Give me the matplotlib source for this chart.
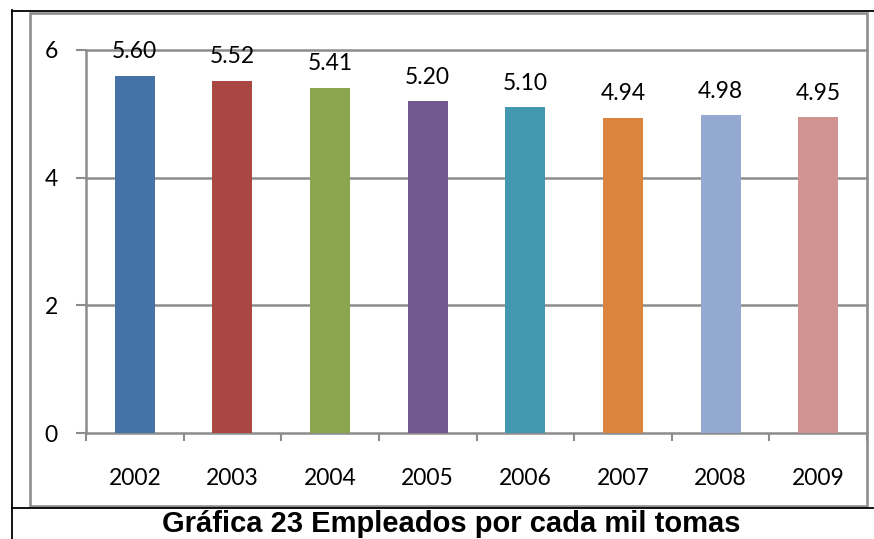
import numpy as np
import matplotlib.pyplot as plt
from matplotlib.lines import Line2D
from matplotlib.patches import Rectangle

# data
years = ["2002", "2003", "2004", "2005", "2006", "2007", "2008", "2009"]
values = [5.60, 5.52, 5.41, 5.20, 5.10, 4.94, 4.98, 4.95]
colors = ["#4572A7", "#AA4643", "#89A54E", "#71588F",
          "#4198AF", "#DB843D", "#93A9CF", "#D19392"]
yticks = [0, 2, 4, 6]
caption = "Gráfica 23 Empleados por cada mil tomas"

W, H = 874, 539
fig = plt.figure(figsize=(W / 100, H / 100), dpi=100)
fig.patch.set_facecolor("white")

def fx(px):
    return px / W

def fy(py):
    return 1 - py / H

# plot area
ax = fig.add_axes([fx(86), fy(433), fx(867) - fx(86), fy(50) - fy(433)])
x = np.arange(len(years))
ax.bar(x, values, width=0.41, color=colors, zorder=3)
ax.set_xlim(-0.5, len(years) - 0.5)
ax.set_ylim(0, 6)

grid_col = "#8c8c8c"
for v in yticks[1:]:
    ax.axhline(v, color=grid_col, lw=1.8, zorder=1, clip_on=False)

for s in ["top", "right"]:
    ax.spines[s].set_visible(False)
for s in ["left", "bottom"]:
    ax.spines[s].set_color(grid_col)
    ax.spines[s].set_linewidth(1.8)

font = "Lato"
fs = 16.5
ax.set_yticks(yticks)
ax.set_yticklabels([str(v) for v in yticks], fontsize=fs, family=font)
ax.tick_params(axis="y", length=7.2, width=1.5, color=grid_col, pad=13)

ax.set_xticks(x)
ax.set_xticklabels(years, fontsize=fs, family=font)
ax.tick_params(axis="x", which="major", length=0, pad=25)
ax.set_xticks(np.arange(len(years) + 1) - 0.5, minor=True)
ax.tick_params(axis="x", which="minor", length=6, width=1.5, color=grid_col)

for xi, v in zip(x, values):
    ax.annotate("%.2f" % v, (xi, v), xytext=(0, 12.5), textcoords="offset points",
                ha="center", va="baseline", fontsize=fs, family=font)

# chart border
fig.add_artist(Rectangle((fx(30), fy(506)), fx(867) - fx(30), fy(12.6) - fy(506),
                         transform=fig.transFigure, fill=False,
                         edgecolor="#8e8e8e", lw=1.9))

# table cell lines
for xs, ys in [([12, 874], [10.5, 10.5]), ([12, 12], [10, 539]),
               ([12, 873], [507.8, 507.8])]:
    fig.add_artist(Line2D([fx(p) for p in xs], [fy(p) for p in ys],
                          transform=fig.transFigure, color="black", lw=1.3))

fig.text(fx(451), fy(532.5), caption, ha="center", va="baseline",
         fontsize=21, fontweight="bold", family="Liberation Sans")

fig.savefig("out.png", dpi=100)
